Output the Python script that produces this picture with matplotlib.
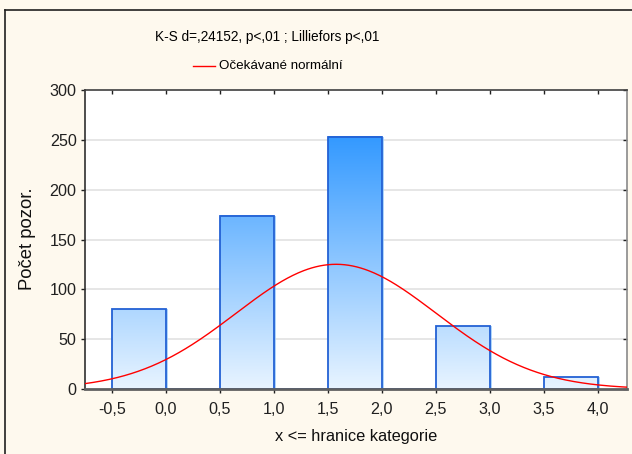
import numpy as np
import matplotlib
matplotlib.use("Agg")
import matplotlib.pyplot as plt
from matplotlib.colors import LinearSegmentedColormap
from matplotlib.lines import Line2D

plt.rcParams['font.family'] = ['Liberation Sans', 'DejaVu Sans']

# Category upper bounds (x <= bound) and observed counts
bin_upper = [0.0, 0.5, 1.0, 1.5, 2.0, 2.5, 3.0, 3.5, 4.0]
counts = [80, 0, 174, 0, 253, 0, 63, 0, 12]
bin_width = 0.5
x_ticks = [-0.5, 0.0, 0.5, 1.0, 1.5, 2.0, 2.5, 3.0, 3.5, 4.0]
y_ticks = [0, 50, 100, 150, 200, 250, 300]

title_text = "K-S d=,24152, p<,01 ; Lilliefors p<,01"
legend_text = "Očekávané normální"
xlabel_text = "x <= hranice kategorie"
ylabel_text = "Počet pozor."

W, H = 632, 454
bg = '#fef9ee'
fig = plt.figure(figsize=(W / 100, H / 100), dpi=100, facecolor=bg)
ax = fig.add_axes([85/W, 1-389/H, (627-85)/W, (389-90)/H])
ax.set_facecolor('white')

xmin, xmax = -0.75, 4.27

# gridlines
for yv in y_ticks[1:-1]:
    ax.axhline(yv, color='#e2e2e2', lw=1.2, zorder=0.5)

# gradient-filled bars: colour depends on height within the tallest bar
cmap = LinearSegmentedColormap.from_list('bar', ['#e8f4ff', '#3399ff'])
hmax = max(counts)
for ub, c in zip(bin_upper, counts):
    x0 = ub - bin_width
    if c > 0:
        grad = np.linspace(0, c / hmax, 256).reshape(-1, 1)
        ax.imshow(grad, extent=[x0, ub, 0, c], origin='lower', aspect='auto',
                  cmap=cmap, vmin=0, vmax=1, zorder=1, interpolation='bilinear')
        # light stripe right of the bar
        ax.plot([ub + 0.012, ub + 0.012], [0, c], color='#9fcdfa', lw=1.2,
                zorder=1.1, solid_capstyle='butt')
    ax.add_patch(plt.Rectangle((x0, 0), bin_width, c, fill=False,
                               edgecolor='#2361d4', lw=1.3, zorder=2,
                               clip_on=False))
ax.set_xlim(xmin, xmax)
ax.set_ylim(0, 300)

# expected normal curve from the category values and counts
vals = np.array(bin_upper)
cnt = np.array(counts)
n_total = cnt.sum()
mean = (vals * cnt).sum() / n_total
sd = np.sqrt(((vals - mean) ** 2 * cnt).sum() / (n_total - 1))
xs = np.linspace(xmin, xmax, 400)
ys = n_total * bin_width * np.exp(-0.5 * ((xs - mean) / sd) ** 2) / (sd * np.sqrt(2 * np.pi))
ax.plot(xs, ys, color='#ff0000', lw=1.0, zorder=3)

# axes styling
ax.set_xticks(x_ticks)
ax.set_xticklabels([f"{v:.1f}".replace('.', ',') for v in x_ticks])
ax.set_yticks(y_ticks)
ax.set_yticklabels([str(v) for v in y_ticks])
ax.tick_params(axis='both', labelsize=11.6, colors='#202020', length=3,
               width=1, direction='out')
ax.tick_params(axis='x', pad=6)
ax.tick_params(axis='y', pad=3)
ax.tick_params(top=True, right=True, labeltop=False, labelright=False)
for t in ax.xaxis.get_major_ticks():
    t.tick2line.set_marker(3)  # inward from top
for t in ax.yaxis.get_major_ticks():
    t.tick2line.set_marker(0)

ax.spines['left'].set_color('#303030')
ax.spines['top'].set_color('#404040')
ax.spines['right'].set_color('#8a8a8a')
ax.spines['bottom'].set_color('#606060')
ax.spines['bottom'].set_linewidth(2)
for s in ['left', 'top', 'right']:
    ax.spines[s].set_linewidth(1.2)

# axis titles
fig.text(356/W, 1 - 437/H, xlabel_text, ha='center', va='center',
         fontsize=11.8, color='#101010')
fig.text(27/W, 1 - 239/H, ylabel_text, ha='center', va='center',
         rotation=90, fontsize=13.3, color='#101010')

# title and legend
fig.text(267/W, 1 - 37/H, title_text, ha='center', va='center', fontsize=9.8)
fig.add_artist(Line2D([193/W, 215/W], [1 - 66/H, 1 - 66/H],
                      color='#ff0000', lw=1.0))
fig.text(219/W, 1 - 66/H, legend_text, ha='left', va='center', fontsize=9.6)

# outer frame
fig.add_artist(Line2D([4.5/W, 4.5/W], [0, 1 - 10/H], color='#202020', lw=1.2))
fig.add_artist(Line2D([4.5/W, 1], [1 - 10/H, 1 - 10/H], color='#202020', lw=1.2))

fig.savefig('out.png', dpi=100, facecolor=bg)
